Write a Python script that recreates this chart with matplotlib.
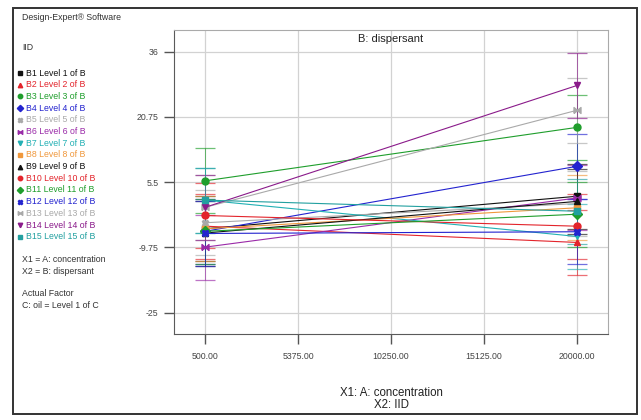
"""
Interaction plot of IID against concentration for each dispersant level,
with LSD bars at both concentration settings.
"""

import matplotlib.pyplot as plt
from matplotlib.patches import Rectangle

plt.rcParams["font.family"] = ["Liberation Sans", "DejaVu Sans"]

# factor settings and responses
concentration = [500.0, 20000.0]
levels = ["B1", "B2", "B3", "B4", "B5", "B6", "B7", "B8",
          "B9", "B10", "B11", "B12", "B13", "B14", "B15"]
iid_low = [-5.4, -4.8, 5.8, -6.0, -4.0, -9.7, 1.3, -5.4,
           -6.4, -2.3, -6.0, -6.5, -0.4, -0.4, 1.3]
iid_high = [2.2, -8.6, 18.3, 9.2, 0.5, 1.8, -7.2, -0.5,
            1.0, -4.8, -2.0, -6.1, 22.3, 28.1, -1.3]
lsd_half = 7.6

x_ticks = [500, 5375, 10250, 15125, 20000]
y_ticks = [-25, -9.75, 5.5, 20.75, 36]
y_tick_labels = ["-25", "-9.75", "5.5", "20.75", "36"]

bowtie = [(-1, -0.85), (-1, 0.85), (1, -0.85), (1, 0.85), (-1, -0.85)]

colors = ["#111111", "#e3242b", "#1f9e2c", "#2323cf", "#a9a9a9",
          "#9a2aa8", "#22b0b4", "#f0983c", "#111111", "#e3242b",
          "#1f9e2c", "#2323cf", "#a9a9a9", "#8a1a8a", "#22a0a0"]
markers = ["s", "^", "o", "D", "X", bowtie, "v", "s",
           "^", "o", "D", "X", bowtie, "v", "s"]

fig = plt.figure(figsize=(6.41, 4.20), dpi=100)

# overlay in pixel units for the side panel and frame
overlay = fig.add_axes([0, 0, 1, 1])
overlay.set_xlim(0, 641)
overlay.set_ylim(420, 0)
overlay.axis("off")
overlay.add_patch(Rectangle((13, 8), 624, 406, fill=False,
                            edgecolor="#333333", linewidth=1.4))

text_kw = dict(fontsize=6.3, va="center", ha="left", color="#333333")
overlay.text(22, 17, "Design-Expert\u00ae Software", **text_kw)
overlay.text(22, 47, "IID", **text_kw)
for i, name in enumerate(levels):
    y = 73 + i * 11.7
    overlay.plot(20, y, marker=markers[i], color=colors[i],
                 markersize=3.2, linestyle="none")
    overlay.text(26, y, f"{name} Level {i + 1} of B", fontsize=6.3,
                 va="center", ha="left", color=colors[i])
overlay.text(22, 259, "X1 = A: concentration", **text_kw)
overlay.text(22, 271, "X2 = B: dispersant", **text_kw)
overlay.text(22, 293, "Actual Factor", **text_kw)
overlay.text(22, 305, "C: oil = Level 1 of C", **text_kw)

ax = fig.add_axes([0.2714, 0.2048, 0.6771, 0.7238])

for i in range(len(levels)):
    values = [iid_low[i], iid_high[i]]
    ax.errorbar(concentration, values, yerr=lsd_half, fmt="none",
                ecolor=colors[i], elinewidth=0.7, capsize=7,
                capthick=0.9, alpha=0.65, zorder=2)

for i in range(len(levels)):
    values = [iid_low[i], iid_high[i]]
    ax.plot(concentration, values, color=colors[i], linewidth=0.8,
            marker=markers[i], markersize=5, zorder=3)

ax.set_xlim(-1125, 21625)
ax.set_ylim(-30, 41.07)
ax.set_xticks(x_ticks)
ax.set_xticklabels([f"{t:.2f}" for t in x_ticks])
ax.set_yticks(y_ticks)
ax.set_yticklabels(y_tick_labels)
ax.tick_params(direction="out", length=7, width=1, colors="#555555",
               labelsize=6.3, labelcolor="#444444")
ax.tick_params(axis="x", pad=6)
ax.tick_params(axis="y", pad=4)
ax.grid(True, color="#d2d2d2", linewidth=0.9)
ax.set_axisbelow(True)
for side in ["left", "bottom"]:
    ax.spines[side].set_color("#5a5a5a")
for side in ["top", "right"]:
    ax.spines[side].set_color("#aaaaaa")

ax.text(0.5, 0.988, "B: dispersant", transform=ax.transAxes,
        ha="center", va="top", fontsize=8, color="#222222")

overlay.text(391, 393, "X1: A: concentration", fontsize=8.3,
             ha="center", va="center", color="#222222")
overlay.text(391, 405, "X2: IID", fontsize=8.3,
             ha="center", va="center", color="#222222")

fig.savefig("out.png", dpi=100)
